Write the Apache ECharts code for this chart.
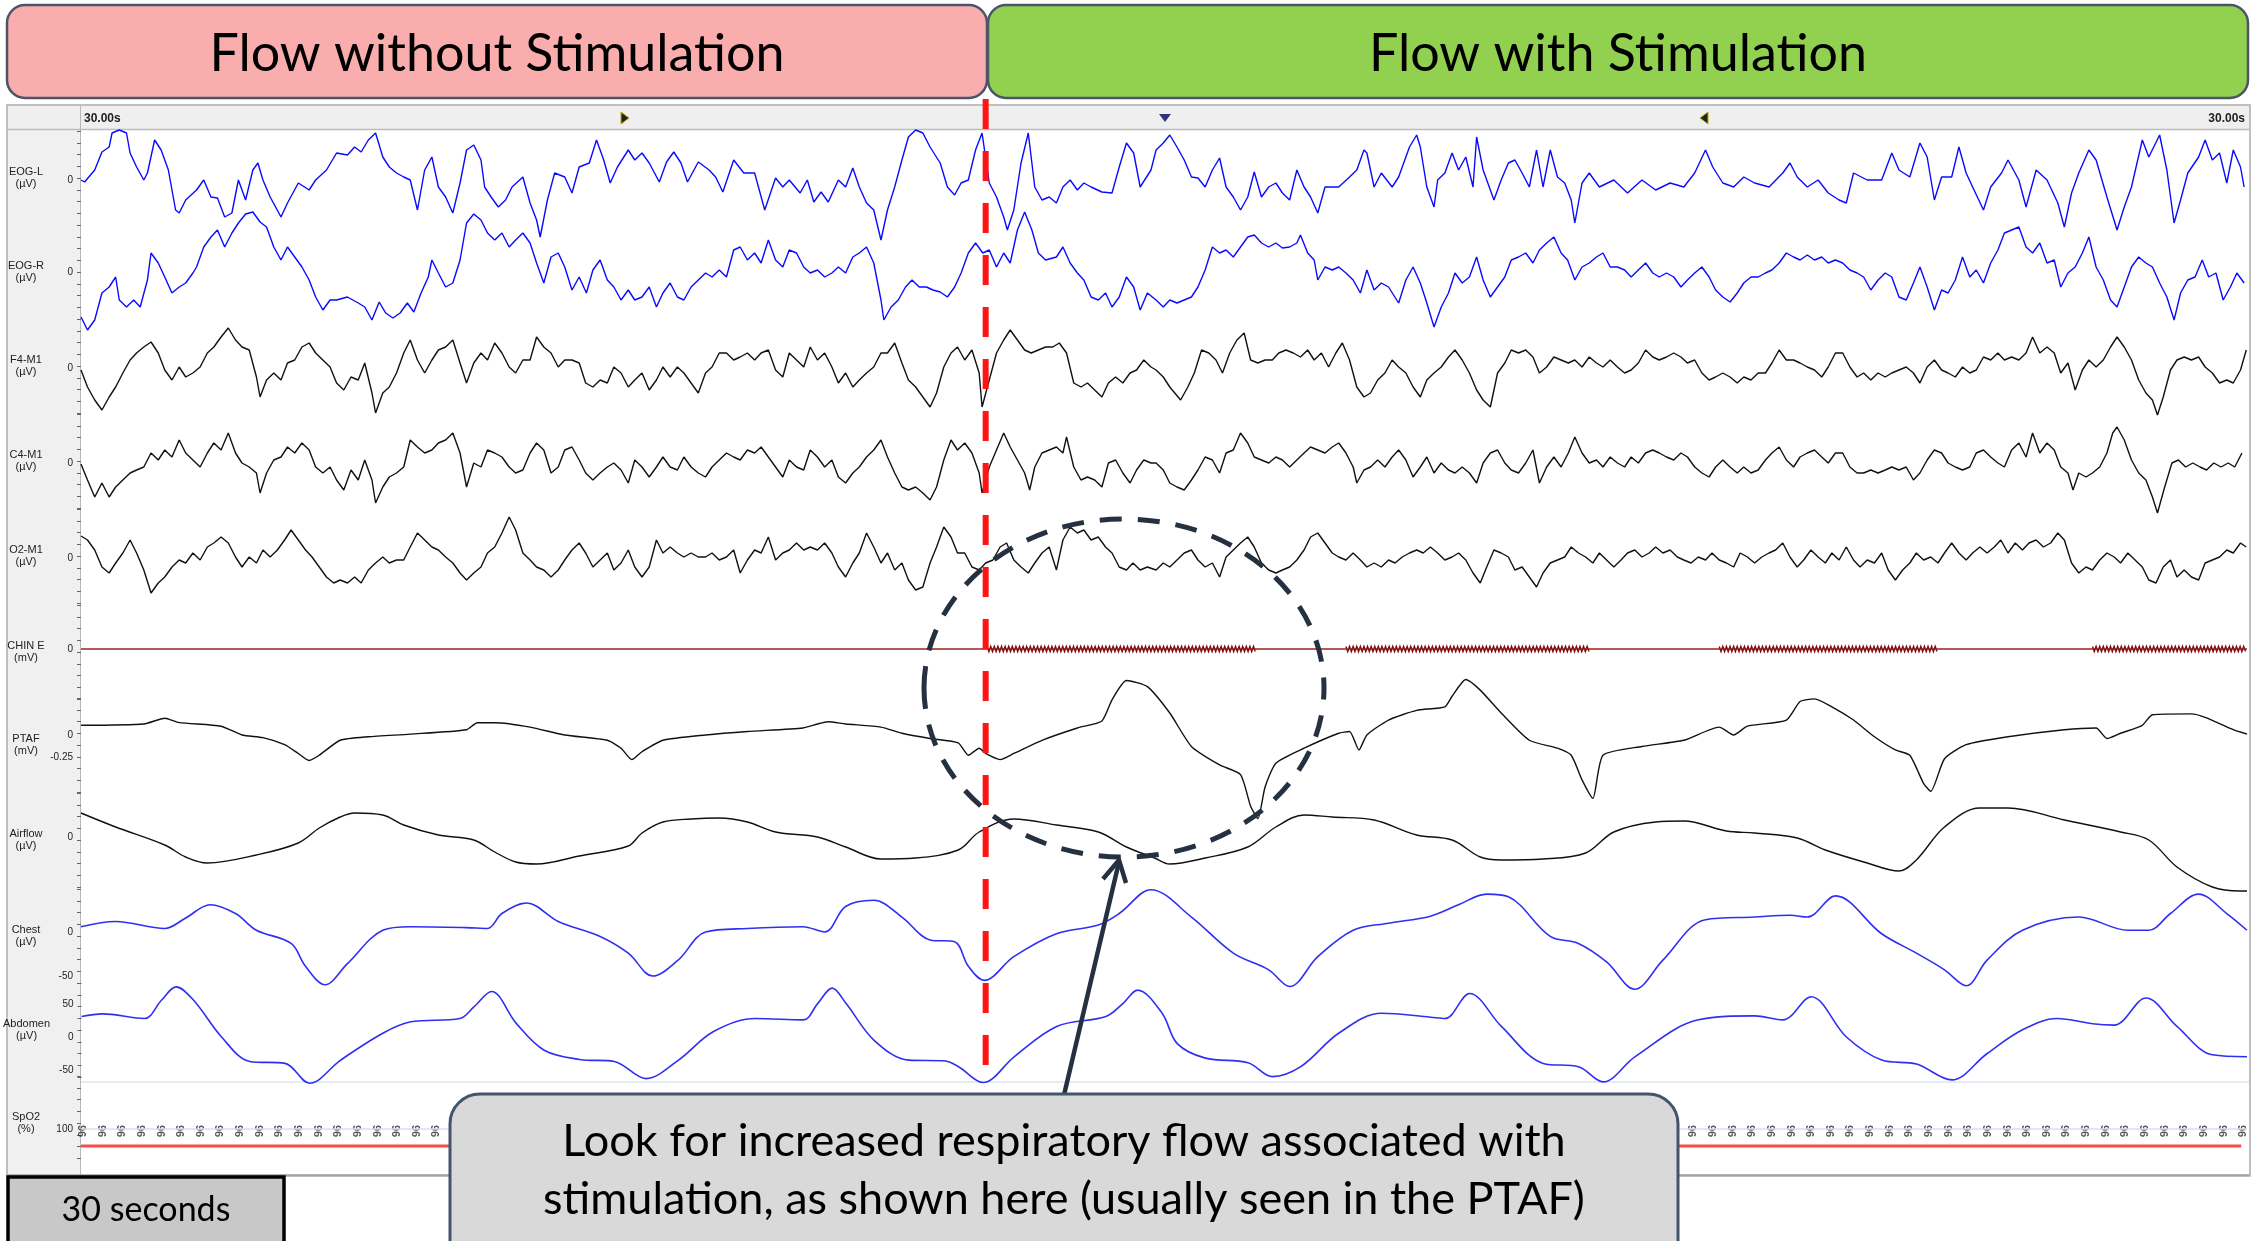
<!DOCTYPE html>
<html>
<head>
<meta charset="utf-8">
<script src="https://cdn.jsdelivr.net/npm/echarts@6/dist/echarts.min.js"></script>
<style>
  html, body { margin: 0; padding: 0; background: #fff; }
  #chart { width: 2255px; height: 1241px; }
</style>
</head>
<body>
<div id="chart"></div>
<script>
// ---- Recorded signals for one 30 s epoch: [time (s), value] ----
const eogL = [[0,0],[0.05,-2],[0.19,10],[0.29,28],[0.39,33],[0.43,47],[0.53,50],[0.63,47],[0.68,27],[0.77,13],[0.87,0],[0.92,7],[1.02,40],[1.11,30],[1.21,10],[1.31,-30],[1.36,-33],[1.45,-20],[1.6,-10],[1.7,0],[1.8,-17],[1.89,-18],[1.99,-37],[2.09,-33],[2.18,0],[2.28,-20],[2.38,10],[2.45,17],[2.52,0],[2.62,-17],[2.77,-37],[2.86,-23],[3.01,-3],[3.16,-10],[3.25,0],[3.4,10],[3.54,27],[3.69,25],[3.79,33],[3.88,28],[3.98,40],[4.08,47],[4.18,23],[4.27,13],[4.37,7],[4.47,3],[4.56,0],[4.66,-30],[4.76,10],[4.86,23],[4.95,-7],[5.05,-17],[5.15,-33],[5.25,-3],[5.34,30],[5.44,35],[5.54,20],[5.59,-7],[5.68,-17],[5.78,-27],[5.88,-20],[5.97,-7],[6.12,3],[6.22,-23],[6.31,-40],[6.36,-57],[6.46,-20],[6.56,7],[6.7,3],[6.8,-13],[6.9,13],[7.04,17],[7.14,40],[7.24,20],[7.33,-3],[7.43,13],[7.58,30],[7.67,20],[7.77,27],[7.87,17],[8.01,-2],[8.11,18],[8.21,28],[8.31,17],[8.4,-2],[8.55,18],[8.7,10],[8.79,3],[8.89,-12],[9.04,20],[9.18,7],[9.33,7],[9.47,-30],[9.62,2],[9.72,-7],[9.81,0],[9.96,-13],[10.06,0],[10.15,-22],[10.25,-12],[10.35,-22],[10.49,0],[10.59,-7],[10.69,12],[10.78,-7],[10.88,-23],[10.98,-30],[11.08,-60],[11.17,-30],[11.27,-7],[11.37,20],[11.46,43],[11.56,50],[11.66,47],[11.76,33],[11.9,17],[12.0,-7],[12.1,-15],[12.19,-3],[12.29,0],[12.39,30],[12.48,47],[12.58,-3],[12.68,-17],[12.78,-37],[12.83,-50],[12.92,-30],[13.02,17],[13.12,47],[13.21,-7],[13.31,-20],[13.41,-17],[13.51,-23],[13.6,-7],[13.7,0],[13.8,-10],[13.89,-3],[13.99,-7],[14.14,-12],[14.28,-13],[14.38,13],[14.48,37],[14.58,27],[14.67,-7],[14.82,10],[14.89,30],[14.99,37],[15.08,45],[15.18,33],[15.28,20],[15.38,3],[15.47,2],[15.57,-7],[15.67,10],[15.77,22],[15.86,-7],[15.96,-17],[16.06,-30],[16.16,-17],[16.25,8],[16.35,-17],[16.45,-7],[16.55,-3],[16.64,-13],[16.74,-20],[16.84,10],[16.94,-7],[17.03,-17],[17.13,-33],[17.23,-7],[17.42,-7],[17.57,3],[17.67,10],[17.77,30],[17.81,27],[17.91,-7],[18.01,7],[18.16,-7],[18.25,3],[18.4,33],[18.5,45],[18.55,33],[18.64,-7],[18.74,-27],[18.79,0],[18.89,7],[18.99,27],[19.08,10],[19.18,23],[19.28,-7],[19.33,43],[19.42,10],[19.57,-20],[19.67,0],[19.77,17],[19.86,20],[19.96,7],[20.06,-7],[20.16,30],[20.25,-7],[20.35,30],[20.45,3],[20.55,-3],[20.64,-20],[20.69,-43],[20.79,-3],[20.89,7],[21.03,-7],[21.23,0],[21.42,-13],[21.62,0],[21.81,-10],[22.01,-3],[22.2,-7],[22.35,7],[22.5,30],[22.6,13],[22.74,-3],[22.89,-7],[23.03,3],[23.18,-3],[23.38,-7],[23.57,7],[23.67,17],[23.77,3],[23.91,-7],[24.06,0],[24.2,-13],[24.35,-20],[24.45,-23],[24.55,7],[24.74,0],[24.94,0],[25.08,27],[25.18,10],[25.33,3],[25.47,37],[25.57,23],[25.67,-20],[25.77,3],[25.91,3],[26.01,33],[26.11,7],[26.2,-7],[26.35,-30],[26.45,-7],[26.6,7],[26.69,20],[26.84,0],[26.94,-27],[27.08,10],[27.23,0],[27.38,-23],[27.47,-47],[27.57,-13],[27.67,7],[27.81,30],[27.91,20],[28.06,-17],[28.2,-50],[28.3,-27],[28.4,-7],[28.55,40],[28.64,23],[28.79,45],[28.89,10],[28.99,-43],[29.08,-20],[29.18,7],[29.33,23],[29.42,40],[29.52,20],[29.62,27],[29.72,-3],[29.81,30],[29.91,13],[29.96,-7]];

const eogR = [[0,-45],[0.09,-58],[0.19,-48],[0.29,-21],[0.39,-15],[0.48,-5],[0.53,-28],[0.63,-35],[0.73,-28],[0.82,-35],[0.92,-8],[0.97,19],[1.07,9],[1.16,-5],[1.26,-21],[1.36,-15],[1.45,-11],[1.55,-1],[1.6,5],[1.7,25],[1.8,35],[1.89,42],[1.99,25],[2.09,39],[2.18,49],[2.28,58],[2.38,60],[2.48,50],[2.57,45],[2.67,25],[2.77,12],[2.86,25],[2.96,15],[3.06,5],[3.16,-8],[3.25,-25],[3.35,-38],[3.45,-28],[3.54,-28],[3.69,-25],[3.84,-31],[3.93,-35],[4.03,-48],[4.13,-30],[4.22,-41],[4.32,-46],[4.42,-41],[4.52,-31],[4.61,-40],[4.71,-21],[4.81,-5],[4.86,12],[4.95,-1],[5.05,-15],[5.15,-11],[5.25,12],[5.34,49],[5.44,58],[5.54,52],[5.63,39],[5.73,32],[5.83,39],[5.93,25],[6.02,32],[6.12,39],[6.22,29],[6.31,9],[6.41,-11],[6.51,15],[6.61,19],[6.7,5],[6.8,-18],[6.9,-5],[7.0,-21],[7.09,2],[7.19,12],[7.29,-8],[7.38,-15],[7.48,-28],[7.58,-18],[7.67,-28],[7.77,-25],[7.87,-15],[7.97,-35],[8.06,-21],[8.16,-11],[8.26,-25],[8.35,-28],[8.45,-15],[8.55,-8],[8.65,-1],[8.74,-5],[8.84,2],[8.94,-5],[9.04,22],[9.13,25],[9.23,12],[9.33,19],[9.42,9],[9.52,32],[9.62,12],[9.72,5],[9.81,22],[9.91,19],[10.01,5],[10.1,-1],[10.2,2],[10.3,-5],[10.4,-1],[10.49,5],[10.59,-1],[10.69,15],[10.78,19],[10.88,25],[10.98,9],[11.08,-28],[11.12,-48],[11.22,-35],[11.32,-28],[11.42,-15],[11.51,-8],[11.61,-15],[11.71,-15],[11.8,-18],[11.9,-20],[12.0,-25],[12.1,-15],[12.19,-1],[12.29,19],[12.39,29],[12.49,19],[12.58,22],[12.68,5],[12.78,19],[12.87,9],[12.97,42],[13.07,60],[13.17,42],[13.26,19],[13.36,12],[13.51,15],[13.6,25],[13.7,9],[13.8,-1],[13.89,-8],[13.99,-25],[14.09,-28],[14.19,-21],[14.28,-35],[14.38,-25],[14.48,-5],[14.58,-15],[14.67,-38],[14.77,-21],[14.89,-28],[14.99,-35],[15.08,-28],[15.18,-31],[15.28,-28],[15.38,-25],[15.47,-15],[15.57,2],[15.67,25],[15.77,19],[15.86,22],[15.96,15],[16.06,25],[16.16,35],[16.25,37],[16.35,29],[16.45,25],[16.55,29],[16.64,24],[16.74,25],[16.84,29],[16.89,37],[16.99,19],[17.08,12],[17.13,-8],[17.23,5],[17.33,2],[17.42,5],[17.52,-1],[17.62,-8],[17.72,-21],[17.81,2],[17.91,-18],[18.01,-11],[18.11,-15],[18.25,-31],[18.35,-8],[18.45,5],[18.55,-11],[18.64,-31],[18.74,-55],[18.84,-35],[18.94,-21],[19.03,-1],[19.13,-11],[19.23,-5],[19.33,15],[19.42,-8],[19.52,-25],[19.62,-15],[19.72,-5],[19.81,12],[19.91,15],[20.01,19],[20.11,9],[20.2,22],[20.3,29],[20.4,35],[20.5,19],[20.59,12],[20.69,-8],[20.79,5],[20.89,9],[20.99,15],[21.08,19],[21.18,5],[21.28,5],[21.38,2],[21.47,-5],[21.57,2],[21.67,9],[21.77,-1],[21.86,-5],[21.96,-1],[22.06,-5],[22.16,-15],[22.25,-8],[22.35,-1],[22.45,5],[22.55,-5],[22.64,-18],[22.74,-25],[22.84,-30],[22.94,-21],[23.03,-11],[23.13,-5],[23.23,-5],[23.33,-1],[23.42,2],[23.52,9],[23.62,19],[23.72,15],[23.81,12],[23.91,17],[24.01,12],[24.11,15],[24.2,9],[24.3,12],[24.4,9],[24.5,2],[24.6,-1],[24.69,-5],[24.79,-18],[24.89,-8],[24.99,-1],[25.08,-5],[25.18,-25],[25.28,-28],[25.38,-11],[25.47,5],[25.57,-15],[25.67,-38],[25.77,-18],[25.86,-21],[25.96,-8],[26.06,15],[26.16,-5],[26.25,2],[26.35,-11],[26.45,9],[26.55,22],[26.64,39],[26.74,42],[26.84,45],[26.94,25],[27.03,19],[27.13,29],[27.23,9],[27.33,12],[27.42,-15],[27.52,-1],[27.62,5],[27.72,19],[27.81,35],[27.91,5],[28.01,-8],[28.11,-28],[28.2,-35],[28.3,-15],[28.4,5],[28.5,15],[28.6,9],[28.69,5],[28.79,-11],[28.89,-25],[28.99,-48],[29.08,-21],[29.18,-8],[29.28,-5],[29.38,12],[29.47,-5],[29.57,-1],[29.67,-28],[29.77,-15],[29.86,-1],[29.96,-11]];

const f4m1 = [[0,-2],[0.09,-19],[0.19,-32],[0.29,-42],[0.39,-29],[0.48,-19],[0.58,-5],[0.68,8],[0.77,15],[0.87,21],[0.97,26],[1.07,15],[1.16,-2],[1.26,-12],[1.36,1],[1.45,-9],[1.55,-5],[1.65,1],[1.75,15],[1.84,21],[1.94,31],[2.04,40],[2.14,28],[2.23,21],[2.33,18],[2.43,-9],[2.48,-29],[2.57,-12],[2.67,-5],[2.77,-12],[2.86,5],[2.96,8],[3.06,21],[3.16,25],[3.25,15],[3.35,8],[3.45,1],[3.54,-15],[3.64,-22],[3.74,-9],[3.84,-12],[3.93,5],[4.03,-25],[4.08,-45],[4.18,-25],[4.27,-19],[4.37,-5],[4.47,15],[4.56,28],[4.66,8],[4.76,-5],[4.86,8],[4.95,18],[5.05,21],[5.15,28],[5.25,5],[5.34,-15],[5.44,5],[5.54,15],[5.63,8],[5.73,25],[5.83,15],[5.93,1],[6.02,-5],[6.12,8],[6.22,8],[6.31,31],[6.41,21],[6.51,15],[6.61,1],[6.7,8],[6.8,8],[6.9,5],[6.99,-15],[7.09,-19],[7.19,-12],[7.29,-15],[7.38,1],[7.48,-5],[7.58,-19],[7.67,-12],[7.77,-5],[7.87,-22],[7.97,-12],[8.06,1],[8.16,-9],[8.26,1],[8.35,-5],[8.45,-15],[8.55,-25],[8.65,-5],[8.74,1],[8.84,15],[8.94,15],[9.04,8],[9.13,11],[9.23,15],[9.33,8],[9.42,15],[9.52,18],[9.62,-2],[9.72,-9],[9.81,15],[9.91,8],[10.01,1],[10.1,21],[10.2,8],[10.3,15],[10.4,1],[10.49,-15],[10.59,-5],[10.69,-19],[10.78,-12],[10.88,-5],[10.98,1],[11.08,15],[11.17,15],[11.27,25],[11.37,5],[11.46,-12],[11.56,-19],[11.66,-29],[11.76,-39],[11.85,-25],[11.95,1],[12.05,15],[12.14,21],[12.24,8],[12.34,18],[12.44,-5],[12.48,-39],[12.58,-12],[12.68,15],[12.78,28],[12.87,38],[12.97,28],[13.07,18],[13.16,15],[13.26,18],[13.36,21],[13.46,21],[13.55,25],[13.65,15],[13.75,-15],[13.85,-19],[13.94,-15],[14.04,-22],[14.14,-29],[14.23,-15],[14.33,-9],[14.43,-15],[14.53,-5],[14.62,-2],[14.72,8],[14.82,1],[14.89,-2],[14.99,-9],[15.08,-19],[15.23,-32],[15.33,-19],[15.42,-5],[15.52,18],[15.62,15],[15.72,8],[15.81,-5],[15.91,15],[16.01,28],[16.11,35],[16.2,8],[16.3,5],[16.4,8],[16.5,8],[16.59,15],[16.69,18],[16.79,15],[16.89,11],[16.99,18],[17.08,8],[17.18,15],[17.28,1],[17.38,15],[17.47,25],[17.57,8],[17.67,-19],[17.77,-29],[17.86,-25],[17.96,-12],[18.06,-5],[18.16,8],[18.25,1],[18.35,-5],[18.45,-19],[18.55,-29],[18.64,-12],[18.74,-5],[18.84,1],[18.94,11],[19.03,18],[19.13,8],[19.23,-5],[19.33,-22],[19.42,-32],[19.52,-39],[19.62,-5],[19.72,5],[19.81,18],[19.91,15],[20.01,18],[20.11,11],[20.2,-5],[20.3,1],[20.4,11],[20.5,8],[20.6,5],[20.69,8],[20.79,1],[20.89,11],[20.99,5],[21.08,1],[21.18,8],[21.28,1],[21.38,-5],[21.47,-2],[21.57,5],[21.67,18],[21.77,11],[21.86,8],[21.96,11],[22.06,15],[22.16,11],[22.25,5],[22.35,8],[22.45,-5],[22.55,-12],[22.64,-9],[22.74,-5],[22.84,-9],[22.94,-15],[23.03,-9],[23.13,-12],[23.23,-5],[23.33,-5],[23.42,5],[23.52,18],[23.62,8],[23.72,8],[23.81,5],[23.91,1],[24.01,-2],[24.11,-9],[24.2,1],[24.3,15],[24.4,15],[24.5,1],[24.6,-9],[24.69,-5],[24.79,-12],[24.89,-5],[24.99,-9],[25.08,-5],[25.18,-2],[25.28,1],[25.38,-5],[25.47,-15],[25.57,1],[25.67,8],[25.77,-2],[25.86,-5],[25.96,-9],[26.06,1],[26.16,-5],[26.25,-2],[26.35,11],[26.45,8],[26.55,15],[26.64,8],[26.74,11],[26.84,8],[26.94,15],[27.03,31],[27.13,15],[27.23,21],[27.33,15],[27.42,-5],[27.52,5],[27.62,-22],[27.72,-2],[27.81,8],[27.91,1],[28.01,8],[28.11,21],[28.2,31],[28.3,21],[28.4,8],[28.5,-12],[28.6,-25],[28.69,-32],[28.76,-47],[28.84,-29],[28.94,-2],[29.03,8],[29.13,11],[29.23,8],[29.33,11],[29.42,1],[29.52,-5],[29.62,-15],[29.72,-12],[29.81,-15],[29.91,-2],[29.99,18]];

const c4m1 = [[0,-1],[0.09,-17],[0.19,-34],[0.29,-20],[0.39,-34],[0.48,-24],[0.58,-17],[0.68,-10],[0.77,-7],[0.87,-4],[0.97,10],[1.07,3],[1.16,13],[1.26,6],[1.36,23],[1.45,10],[1.55,3],[1.65,-4],[1.75,10],[1.84,20],[1.94,13],[2.04,30],[2.14,10],[2.23,0],[2.33,-4],[2.43,-10],[2.48,-30],[2.57,-10],[2.67,3],[2.77,6],[2.86,16],[2.96,10],[3.06,20],[3.16,13],[3.25,-4],[3.35,-10],[3.45,-4],[3.54,-17],[3.64,-27],[3.74,-7],[3.84,-17],[3.93,3],[4.03,-17],[4.08,-40],[4.18,-24],[4.27,-14],[4.37,-10],[4.47,-4],[4.56,23],[4.66,16],[4.76,10],[4.86,13],[4.95,20],[5.05,23],[5.15,30],[5.25,10],[5.34,-24],[5.44,0],[5.54,-4],[5.63,13],[5.73,10],[5.83,6],[5.93,-4],[6.02,-10],[6.12,-7],[6.22,10],[6.31,20],[6.41,13],[6.51,-10],[6.61,-4],[6.7,13],[6.8,16],[6.9,3],[6.99,-10],[7.09,-17],[7.19,-10],[7.29,-4],[7.38,0],[7.48,-7],[7.58,-20],[7.67,3],[7.77,-4],[7.87,-14],[7.97,-4],[8.06,6],[8.16,-4],[8.26,-7],[8.35,6],[8.45,-4],[8.55,-10],[8.65,-14],[8.74,-4],[8.84,3],[8.94,10],[9.04,6],[9.13,3],[9.23,13],[9.33,10],[9.42,16],[9.52,6],[9.62,-4],[9.72,-14],[9.81,3],[9.91,-4],[10.01,-7],[10.1,13],[10.2,6],[10.3,-4],[10.4,3],[10.49,-14],[10.59,-20],[10.69,-10],[10.78,-4],[10.88,6],[10.98,13],[11.08,23],[11.17,6],[11.27,-10],[11.37,-24],[11.46,-27],[11.56,-24],[11.66,-30],[11.76,-37],[11.85,-24],[11.95,3],[12.05,23],[12.14,13],[12.24,20],[12.34,10],[12.44,-10],[12.48,-30],[12.58,-4],[12.68,13],[12.78,30],[12.87,16],[12.97,3],[13.07,-10],[13.14,-27],[13.21,-4],[13.31,10],[13.41,13],[13.51,16],[13.6,10],[13.65,26],[13.75,-4],[13.85,-17],[13.94,-14],[14.04,-17],[14.14,-24],[14.23,0],[14.33,3],[14.43,-10],[14.53,-20],[14.62,-7],[14.72,3],[14.82,0],[14.89,0],[14.99,-7],[15.08,-20],[15.18,-24],[15.28,-27],[15.38,-17],[15.47,-7],[15.57,6],[15.67,3],[15.77,-10],[15.86,10],[15.96,13],[16.06,30],[16.16,20],[16.25,6],[16.35,3],[16.45,0],[16.55,6],[16.64,3],[16.74,-4],[16.84,3],[16.94,10],[17.03,16],[17.13,13],[17.23,10],[17.33,16],[17.42,20],[17.52,10],[17.62,-4],[17.67,-20],[17.77,-7],[17.86,-4],[17.96,3],[18.06,-4],[18.16,6],[18.25,13],[18.35,3],[18.45,-14],[18.55,-4],[18.64,6],[18.74,-10],[18.84,0],[18.94,-7],[19.03,-10],[19.13,-4],[19.23,-10],[19.33,-20],[19.42,0],[19.52,10],[19.62,13],[19.72,0],[19.81,-7],[19.91,-10],[20.01,0],[20.11,13],[20.2,-20],[20.3,-4],[20.4,6],[20.5,-4],[20.6,10],[20.69,26],[20.79,10],[20.89,0],[20.99,3],[21.08,-4],[21.18,6],[21.28,0],[21.38,-4],[21.47,6],[21.57,0],[21.67,10],[21.77,13],[21.86,10],[21.96,6],[22.06,3],[22.16,10],[22.25,6],[22.35,-4],[22.45,-10],[22.55,-14],[22.64,-4],[22.74,3],[22.84,-4],[22.94,-10],[23.03,-4],[23.13,-10],[23.23,-7],[23.33,3],[23.42,10],[23.52,16],[23.62,3],[23.72,-4],[23.81,6],[23.91,10],[24.01,13],[24.11,6],[24.2,0],[24.3,10],[24.4,10],[24.5,-4],[24.6,-10],[24.69,-10],[24.79,-7],[24.89,-10],[24.99,-7],[25.08,-4],[25.18,-7],[25.28,-4],[25.38,-17],[25.47,-10],[25.57,3],[25.67,13],[25.77,10],[25.86,0],[25.96,-4],[26.06,-7],[26.16,-4],[26.25,10],[26.35,13],[26.45,6],[26.55,0],[26.64,-4],[26.74,13],[26.84,20],[26.94,6],[27.03,30],[27.13,10],[27.23,20],[27.33,13],[27.42,-4],[27.52,-10],[27.59,-27],[27.67,-10],[27.77,-14],[27.86,-10],[27.96,-4],[28.06,10],[28.14,30],[28.2,36],[28.3,23],[28.4,3],[28.5,-10],[28.6,-17],[28.69,-34],[28.76,-50],[28.86,-24],[28.96,0],[29.05,3],[29.15,-4],[29.25,0],[29.35,-4],[29.44,-7],[29.54,0],[29.64,-4],[29.74,0],[29.83,-4],[29.93,10]];

const o2m1 = [[0,22],[0.09,18],[0.19,8],[0.29,-9],[0.39,-15],[0.48,-5],[0.58,5],[0.68,18],[0.77,5],[0.87,-12],[0.97,-35],[1.07,-25],[1.16,-19],[1.26,-9],[1.36,-2],[1.45,-5],[1.55,5],[1.65,-2],[1.75,11],[1.84,15],[1.94,21],[2.04,15],[2.14,1],[2.23,-9],[2.33,1],[2.43,-5],[2.52,8],[2.62,1],[2.72,8],[2.82,18],[2.91,28],[3.01,18],[3.11,8],[3.2,1],[3.3,-9],[3.4,-19],[3.5,-25],[3.59,-22],[3.69,-25],[3.79,-19],[3.88,-25],[3.98,-12],[4.08,-5],[4.18,1],[4.27,-5],[4.37,-2],[4.47,-2],[4.56,11],[4.66,25],[4.76,18],[4.86,11],[4.95,8],[5.05,1],[5.15,-5],[5.25,-15],[5.34,-22],[5.44,-15],[5.54,-9],[5.63,5],[5.73,11],[5.83,25],[5.93,41],[6.02,28],[6.12,5],[6.22,-2],[6.31,-9],[6.41,-12],[6.51,-19],[6.61,-12],[6.7,-2],[6.8,8],[6.9,15],[6.99,5],[7.09,-9],[7.19,-2],[7.29,5],[7.38,-12],[7.48,-5],[7.58,8],[7.67,-9],[7.77,-19],[7.87,-9],[7.97,18],[8.06,5],[8.16,11],[8.26,5],[8.35,1],[8.45,5],[8.55,1],[8.65,1],[8.74,5],[8.84,-2],[8.94,1],[9.04,8],[9.13,-15],[9.23,-2],[9.33,8],[9.42,5],[9.52,21],[9.62,-2],[9.72,5],[9.81,8],[9.91,15],[10.01,8],[10.1,11],[10.2,8],[10.3,15],[10.4,5],[10.49,-9],[10.59,-19],[10.69,-5],[10.78,5],[10.88,25],[10.98,11],[11.08,-5],[11.17,5],[11.27,-12],[11.37,-5],[11.46,-22],[11.56,-32],[11.66,-29],[11.76,-5],[11.85,11],[11.95,31],[12.05,21],[12.14,5],[12.24,5],[12.34,-9],[12.44,-12],[12.53,-5],[12.63,-2],[12.73,11],[12.82,15],[12.92,-2],[13.02,-9],[13.12,-15],[13.21,-5],[13.31,5],[13.41,11],[13.51,-12],[13.6,18],[13.7,31],[13.8,25],[13.89,28],[13.99,18],[14.09,21],[14.19,11],[14.28,5],[14.38,-9],[14.48,-12],[14.57,-5],[14.67,-12],[14.77,-9],[14.89,-12],[14.99,-5],[15.08,-9],[15.18,-2],[15.28,5],[15.38,8],[15.47,-2],[15.57,-9],[15.67,-5],[15.77,-19],[15.86,1],[15.96,8],[16.06,15],[16.16,21],[16.25,11],[16.35,-5],[16.45,-12],[16.55,-15],[16.64,-12],[16.74,-9],[16.84,-2],[16.94,8],[17.03,21],[17.13,25],[17.23,15],[17.33,5],[17.42,1],[17.52,-2],[17.62,5],[17.72,-2],[17.81,-9],[17.91,-5],[18.01,-9],[18.11,-2],[18.2,-5],[18.3,1],[18.4,5],[18.5,8],[18.59,5],[18.69,11],[18.79,5],[18.89,-2],[18.99,1],[19.08,5],[19.18,-2],[19.28,-15],[19.38,-25],[19.47,-9],[19.57,8],[19.67,5],[19.77,1],[19.86,-12],[19.96,-9],[20.06,-19],[20.16,-29],[20.25,-15],[20.35,-5],[20.45,-2],[20.55,1],[20.64,11],[20.74,5],[20.84,1],[20.94,-5],[21.03,5],[21.13,-2],[21.23,-9],[21.33,-2],[21.42,5],[21.52,8],[21.62,1],[21.72,5],[21.81,11],[21.91,5],[22.01,8],[22.11,1],[22.2,-2],[22.3,-5],[22.4,1],[22.5,-2],[22.59,5],[22.69,-2],[22.79,-5],[22.89,-9],[22.98,5],[23.08,1],[23.18,-5],[23.28,1],[23.38,5],[23.47,8],[23.57,15],[23.67,1],[23.77,-9],[23.86,-2],[23.96,8],[24.06,1],[24.16,-5],[24.25,5],[24.35,-2],[24.45,11],[24.55,-2],[24.64,-9],[24.74,-2],[24.84,-5],[24.94,5],[25.03,-12],[25.13,-22],[25.23,-12],[25.33,-5],[25.42,5],[25.52,-2],[25.62,1],[25.72,-5],[25.81,5],[25.91,15],[26.01,5],[26.11,-2],[26.2,5],[26.3,11],[26.4,5],[26.5,11],[26.59,18],[26.69,5],[26.79,15],[26.89,8],[26.98,15],[27.08,18],[27.18,11],[27.28,15],[27.38,25],[27.47,18],[27.57,-5],[27.67,-15],[27.77,-9],[27.86,-12],[27.96,-2],[28.06,5],[28.16,1],[28.25,-5],[28.35,5],[28.45,-2],[28.55,-9],[28.64,-22],[28.74,-25],[28.84,-9],[28.94,-2],[29.03,-19],[29.13,-12],[29.23,-19],[29.33,-22],[29.42,-5],[29.52,-2],[29.62,1],[29.72,8],[29.81,5],[29.91,15],[29.99,11]];

const ptaf = [[0,0.11],[0.87,0.125],[1.16,0.19],[1.36,0.14],[1.94,0.1],[2.23,0],[2.52,-0.03],[2.82,-0.11],[3.01,-0.21],[3.16,-0.29],[3.3,-0.23],[3.59,-0.06],[3.98,-0.02],[4.56,0.01],[5.34,0.06],[5.49,0.14],[5.73,0.14],[6.22,0.09],[6.7,0],[7.29,-0.06],[7.48,-0.15],[7.63,-0.28],[7.77,-0.19],[8.06,-0.06],[8.65,0],[9.23,0.04],[10.0,0.08],[10.2,0.125],[10.35,0.15],[10.59,0.125],[11.08,0.09],[11.37,0.02],[11.76,-0.04],[12.15,-0.09],[12.29,-0.23],[12.44,-0.15],[12.53,-0.21],[12.73,-0.28],[12.92,-0.21],[13.31,-0.06],[13.8,0.08],[14.14,0.16],[14.28,0.4],[14.48,0.62],[14.77,0.55],[15.08,0.25],[15.38,-0.13],[15.77,-0.34],[16.06,-0.45],[16.2,-0.81],[16.3,-0.95],[16.4,-0.59],[16.55,-0.32],[16.94,-0.15],[17.42,0.02],[17.57,0.04],[17.7,-0.17],[17.81,0],[18.11,0.17],[18.5,0.28],[18.89,0.32],[18.99,0.44],[19.18,0.63],[19.38,0.51],[19.67,0.25],[20.06,-0.06],[20.45,-0.15],[20.64,-0.23],[20.79,-0.51],[20.94,-0.72],[21.08,-0.23],[21.62,-0.13],[22.2,-0.06],[22.69,0.09],[22.89,0],[23.08,0.1],[23.62,0.17],[23.81,0.38],[24.01,0.41],[24.25,0.32],[24.55,0.17],[24.84,-0.02],[25.13,-0.17],[25.33,-0.23],[25.52,-0.55],[25.62,-0.64],[25.81,-0.27],[26.11,-0.11],[26.69,-0.02],[27.47,0.06],[27.91,0.08],[28.06,-0.04],[28.25,0.02],[28.55,0.11],[28.69,0.23],[29.23,0.24],[29.42,0.2],[29.81,0.06],[30,0.01]];

const airflow = [[0,24],[0.48,10],[1.16,-8],[1.45,-20],[1.75,-26],[2.43,-18],[3.01,-6],[3.3,9],[3.59,20],[3.79,24],[4.18,22],[4.47,12],[4.95,2],[5.44,-3],[5.73,-15],[6.02,-25],[6.31,-27],[6.9,-19],[7.58,-9],[7.77,4],[8.06,15],[8.45,18],[8.84,19],[9.23,15],[9.62,5],[10.2,0],[10.59,-10],[11.08,-22],[11.56,-21],[12.15,-13],[12.44,5],[12.92,18],[13.51,12],[14.09,5],[14.48,-10],[14.87,-21],[15.08,-27],[15.57,-21],[16.16,-10],[16.55,10],[16.94,22],[17.33,20],[17.91,17],[18.5,2],[18.99,-3],[19.38,-20],[19.67,-23],[20.25,-22],[20.84,-16],[21.23,5],[21.81,15],[22.2,16],[22.79,6],[23.18,4],[23.77,-1],[24.16,-13],[24.74,-26],[25.18,-34],[25.42,-23],[25.81,10],[26.3,29],[26.69,29],[27.47,17],[28.25,5],[28.64,-3],[29.03,-30],[29.52,-50],[29.91,-54],[30,-54]];

const chest = [[0,6],[0.48,12],[1.16,4],[1.45,16],[1.79,31],[2.14,21],[2.43,2],[2.91,-13],[3.11,-39],[3.38,-60],[3.69,-36],[4.18,2],[4.56,6],[5.34,5],[5.63,4],[5.83,21],[6.17,33],[6.61,12],[7.19,-5],[7.58,-24],[7.92,-50],[8.27,-32],[8.65,0],[9.23,4],[10.0,6],[10.3,0],[10.59,29],[10.98,36],[11.37,17],[11.76,-9],[12.1,-11],[12.29,-39],[12.51,-55],[12.92,-28],[13.51,-2],[14.09,8],[14.38,21],[14.82,48],[15.38,17],[15.96,-24],[16.45,-43],[16.74,-62],[17.13,-28],[17.62,2],[18.11,10],[18.69,18],[19.08,31],[19.47,43],[19.77,40],[20.35,-5],[20.74,-13],[21.13,-34],[21.52,-65],[21.91,-32],[22.5,14],[23.18,17],[23.67,19],[23.91,17],[24.3,41],[24.94,-2],[25.42,-24],[25.81,-43],[26.11,-61],[26.4,-32],[26.89,2],[27.67,17],[28.35,2],[28.64,2],[28.94,21],[29.33,43],[29.72,21],[30,2]];

const abdomen = [[0,31],[0.29,35],[0.87,28],[1.11,56],[1.31,76],[1.55,56],[1.94,0],[2.33,-37],[2.82,-40],[3.16,-70],[3.59,-35],[4.18,6],[4.56,23],[5.24,28],[5.44,46],[5.68,69],[6.02,21],[6.41,-20],[6.9,-34],[7.38,-37],[7.82,-63],[8.27,-35],[8.75,8],[9.33,28],[10.0,26],[10.2,51],[10.4,74],[10.59,51],[10.98,-5],[11.46,-35],[11.95,-36],[12.15,-45],[12.49,-69],[12.92,-30],[13.51,16],[14.19,31],[14.43,51],[14.63,71],[14.97,36],[15.18,-10],[15.57,-32],[16.16,-39],[16.5,-60],[16.89,-45],[17.42,6],[18.01,36],[18.69,30],[18.89,28],[19.23,66],[19.67,16],[20.25,-40],[20.74,-45],[21.08,-68],[21.52,-30],[22.4,26],[23.18,32],[23.57,26],[23.96,61],[24.45,0],[24.94,-35],[25.42,-41],[25.91,-65],[26.4,-25],[26.89,11],[27.37,28],[27.86,20],[28.16,18],[28.6,59],[29.03,16],[29.52,-27],[30,-30]];

// Chin EMG: resting baseline and bursts of activity [start s, end s, amplitude]
const chinBaseline = [[0,0],[30,0]];
const chinBursts = [[12.55,16.28,2.6],[17.52,20.9,2.6],[22.69,25.72,2.6],[27.86,29.98,2.6]];

// SpO2 readout (%), sampled every SPO2_STEP seconds
const SPO2_STEP = 0.272;
const spo2Values = [96,96,96,96,96,96,96,96,96,96,96,96,96,96,96,96,96,96,96,96,96,96,96,96,96,96,96,96,96,96,96,96,96,96,96,96,96,96,96,96,96,96,96,96,96,96,96,96,96,96,96,96,96,96,96,96,96,96,96,96,96,96,96,96,96,96,96,96,96,96,96,96,96,96,96,96,96,96,96,96,96,96,96,96,96,96,96,96,96,96,96,96,96,96,96,96,96,96,96,96,96,96,96,96,96,96,96,96,96,96,96];
const spo2 = spo2Values.map((v, i) => [+(i * SPO2_STEP).toFixed(3), v]);

// Stimulation onset (s)
const STIM_T = 12.53;

// Channel labels and axis tick labels
const channelNames = ['EOG-L\n(µV)', 'EOG-R\n(µV)', 'F4-M1\n(µV)', 'C4-M1\n(µV)', 'O2-M1\n(µV)', 'CHIN E\n(mV)', 'PTAF\n(mV)', 'Airflow\n(µV)', 'Chest\n(µV)', 'Abdomen\n(µV)', 'SpO2\n(%)'];
const tickLabels = [[0],[0],[0],[0],[0],[0],[0,-0.25],[0],[0,-50],[50,0,-50],[100]];
const channelData = [eogL, eogR, f4m1, c4m1, o2m1, chinBaseline, ptaf, airflow, chest, abdomen, spo2];

// Layout of each trace row: pixel row of the reference value, pixels per unit, label shift
const rows = [
  {y0: 180, ppu: 1, base: 0, off: -2, color: '#0a0aff', width: 1.4, smooth: false},
  {y0: 272, ppu: 1, base: 0, off: 0, color: '#0a0aff', width: 1.4, smooth: false},
  {y0: 368, ppu: 1, base: 0, off: -2, color: '#111', width: 1.4, smooth: false},
  {y0: 463, ppu: 1, base: 0, off: -2, color: '#111', width: 1.4, smooth: false},
  {y0: 558, ppu: 1, base: 0, off: -2, color: '#111', width: 1.4, smooth: false},
  {y0: 649, ppu: 1, base: 0, off: 3, color: '#9b2222', width: 1.6, smooth: false},
  {y0: 735, ppu: 88, base: 0, off: 10, color: '#111', width: 1.4, smooth: 0.2},
  {y0: 837, ppu: 1, base: 0, off: 3, color: '#111', width: 1.4, smooth: 0.35},
  {y0: 932, ppu: 0.88, base: 0, off: 4, color: '#2f2ff2', width: 1.6, smooth: 0.35},
  {y0: 1037, ppu: 0.66, base: 0, off: -7, color: '#2f2ff2', width: 1.6, smooth: 0.35},
  {y0: 1129, ppu: 4.25, base: 100, off: -6, color: '#ff4a4a', width: 3, smooth: false}
];

const PLOT_LEFT = 81, PLOT_RIGHT = 8, ROW_H = 94, TICK_GAP = 11.75;
const FONT_UI = 'Liberation Sans';

const grids = [], xAxes = [], yAxes = [], series = [];
rows.forEach((r, i) => {
  const top = r.y0 + r.off - ROW_H / 2;
  const bottom = top + ROW_H;
  const max = r.base + (r.y0 - top) / r.ppu;
  const min = r.base - (bottom - r.y0) / r.ppu;
  const ticks = [];
  for (let j = 0; j <= 8; j++) ticks.push(max - (j * TICK_GAP) / r.ppu);
  grids.push({left: PLOT_LEFT, right: PLOT_RIGHT, top: top, height: ROW_H, containLabel: false});
  xAxes.push({type: 'value', gridIndex: i, min: 0, max: 30, show: false});
  yAxes.push({
    type: 'value', gridIndex: i, min: min, max: max,
    name: channelNames[i], nameLocation: 'middle', nameRotate: 0, nameGap: 55,
    nameTextStyle: {align: 'center', verticalAlign: 'middle', fontSize: 11, lineHeight: 12, color: '#222', fontFamily: FONT_UI},
    axisLine: {show: false},
    splitLine: {show: false},
    axisTick: {show: true, length: 4, customValues: ticks, lineStyle: {color: '#666', width: 1}},
    axisLabel: {show: true, customValues: tickLabels[i], margin: 8, fontSize: 10, color: '#222', fontFamily: FONT_UI,
      formatter: v => String(v)}
  });
  series.push({
    type: 'line', xAxisIndex: i, yAxisIndex: i, data: channelData[i],
    showSymbol: false, symbol: 'none', clip: false, silent: true, animation: false, smooth: r.smooth,
    lineStyle: {color: r.color, width: r.width}
  });
});

// Chin EMG bursts drawn as a dense oscillating band along the baseline
series.push({
  type: 'custom', xAxisIndex: 5, yAxisIndex: 5, data: chinBursts, silent: true, animation: false, clip: false,
  renderItem: function (params, api) {
    const a = api.coord([api.value(0), 0]);
    const b = api.coord([api.value(1), 0]);
    const h = api.size([0, api.value(2)])[1];
    const pts = [];
    let up = true;
    for (let x = a[0]; x <= b[0]; x += 1.8) { pts.push([x, a[1] + (up ? -h : h)]); up = !up; }
    return {type: 'polyline', shape: {points: pts}, style: {stroke: '#7a0e0e', lineWidth: 1.4, fill: null}};
  }
});

// SpO2 numeric readouts printed above the trace (text turned a quarter clockwise)
series.push({
  type: 'scatter', xAxisIndex: 10, yAxisIndex: 10, data: spo2, symbolSize: 2, silent: true, animation: false,
  itemStyle: {color: 'rgba(0,0,0,0)'},
  label: {show: true, position: [1, -14], align: 'center', verticalAlign: 'middle', rotate: -90,
    fontSize: 11, fontWeight: 'bold', color: '#2a2a2a', fontFamily: FONT_UI,
    formatter: p => String(p.value[1])},
  labelLayout: {hideOverlap: false},
  markLine: {silent: true, symbol: 'none', label: {show: false}, animation: false,
    lineStyle: {color: '#d3e2f0', width: 1.5, type: 'solid'}, data: [{yAxis: 100}]}
});

const chart = echarts.init(document.getElementById('chart'), null, {renderer: 'canvas'});
chart.setOption({
  backgroundColor: '#ffffff',
  animation: false,
  grid: grids, xAxis: xAxes, yAxis: yAxes, series: series
});

const xStim = chart.convertToPixel({xAxisIndex: 0}, STIM_T);
const INK = '#253140';

chart.setOption({
  graphic: {elements: [
    // recording panel
    {type: 'rect', z: -30, shape: {x: 7, y: 105, width: 2243, height: 1071}, style: {fill: '#fff', stroke: '#ababab', lineWidth: 1.5}},
    {type: 'rect', z: -29, shape: {x: 8, y: 106, width: 73, height: 1069}, style: {fill: '#f0f0f0'}},
    {type: 'rect', z: -28, shape: {x: 8, y: 106, width: 2241, height: 23}, style: {fill: '#efefef'}},
    {type: 'line', z: -27, shape: {x1: 8, y1: 129.5, x2: 2249, y2: 129.5}, style: {stroke: '#bcbcbc', lineWidth: 1.5}},
    {type: 'line', z: -27, shape: {x1: 80.5, y1: 106, x2: 80.5, y2: 1175}, style: {stroke: '#b8b8b8', lineWidth: 1}},
    {type: 'line', z: -27, shape: {x1: 81, y1: 1082, x2: 2249, y2: 1082}, style: {stroke: '#dde6ef', lineWidth: 1.5}},
    {type: 'line', z: -27, shape: {x1: 8, y1: 1175, x2: 2249, y2: 1175}, style: {stroke: '#9a9a9a', lineWidth: 1.5}},
    {type: 'text', z: 20, x: 84, y: 119, style: {text: '30.00s', fontSize: 12, fontWeight: 'bold', fontFamily: FONT_UI, fill: '#222', align: 'left', verticalAlign: 'middle'}},
    {type: 'text', z: 20, x: 2245, y: 119, style: {text: '30.00s', fontSize: 12, fontWeight: 'bold', fontFamily: FONT_UI, fill: '#222', align: 'right', verticalAlign: 'middle'}},
    {type: 'polygon', z: 20, shape: {points: [[621, 112], [629, 118], [621, 124]]}, style: {fill: '#222', stroke: '#b9a800', lineWidth: 1}},
    {type: 'polygon', z: 20, shape: {points: [[1159, 114], [1171, 114], [1165, 122]]}, style: {fill: '#34347a'}},
    {type: 'polygon', z: 20, shape: {points: [[1708, 112], [1700, 118], [1708, 124]]}, style: {fill: '#222', stroke: '#b9a800', lineWidth: 1}},

    // section headers
    {type: 'rect', z: 100, shape: {x: 7, y: 5, width: 980, height: 93, r: 18}, style: {fill: '#f9adad', stroke: '#4a5668', lineWidth: 2.5}},
    {type: 'text', z: 101, x: 497, y: 54, style: {text: 'Flow without Stimulation', fontSize: 52, fontFamily: 'Lato', fill: '#000', align: 'center', verticalAlign: 'middle'}},
    {type: 'rect', z: 100, shape: {x: 988, y: 5, width: 1260, height: 93, r: 18}, style: {fill: '#92d050', stroke: '#4a5668', lineWidth: 2.5}},
    {type: 'text', z: 101, x: 1618, y: 54, style: {text: 'Flow with Stimulation', fontSize: 52, fontFamily: 'Lato', fill: '#000', align: 'center', verticalAlign: 'middle'}},

    // stimulation onset marker
    {type: 'line', z: 102, shape: {x1: xStim, y1: 99, x2: xStim, y2: 1083}, style: {stroke: '#ff1414', lineWidth: 6, lineDash: [30, 22]}},

    // highlighted region
    {type: 'ellipse', z: 103, shape: {cx: 1124, cy: 688, rx: 200, ry: 169}, style: {fill: null, stroke: INK, lineWidth: 5, lineDash: [22, 16]}},

    // pointer from the note to the highlighted region
    {type: 'polyline', z: 104, shape: {points: [[1064, 1095], [1119, 862]]}, style: {stroke: INK, lineWidth: 4.5, fill: null}},
    {type: 'polyline', z: 104, shape: {points: [[1103, 879], [1119, 860], [1126, 883]]}, style: {stroke: INK, lineWidth: 4.5, fill: null, lineJoin: 'miter'}},

    // note
    {type: 'rect', z: 105, shape: {x: 450, y: 1094, width: 1228, height: 200, r: 30}, style: {fill: '#d9d9d9', stroke: '#44546a', lineWidth: 3}},
    {type: 'text', z: 106, x: 1064, y: 1141, style: {text: 'Look for increased respiratory flow associated with', fontSize: 45, fontFamily: 'Lato', fill: '#000', align: 'center', verticalAlign: 'middle'}},
    {type: 'text', z: 106, x: 1064, y: 1199, style: {text: 'stimulation, as shown here (usually seen in the PTAF)', fontSize: 45, fontFamily: 'Lato', fill: '#000', align: 'center', verticalAlign: 'middle'}},

    // time scale box
    {type: 'rect', z: 105, shape: {x: 8, y: 1177, width: 276, height: 80}, style: {fill: '#c8c8c8', stroke: '#000', lineWidth: 3.5}},
    {type: 'text', z: 106, x: 146, y: 1210, style: {text: '30 seconds', fontSize: 34, fontFamily: 'Lato', fill: '#000', align: 'center', verticalAlign: 'middle'}}
  ]}
});
</script>
</body>
</html>
